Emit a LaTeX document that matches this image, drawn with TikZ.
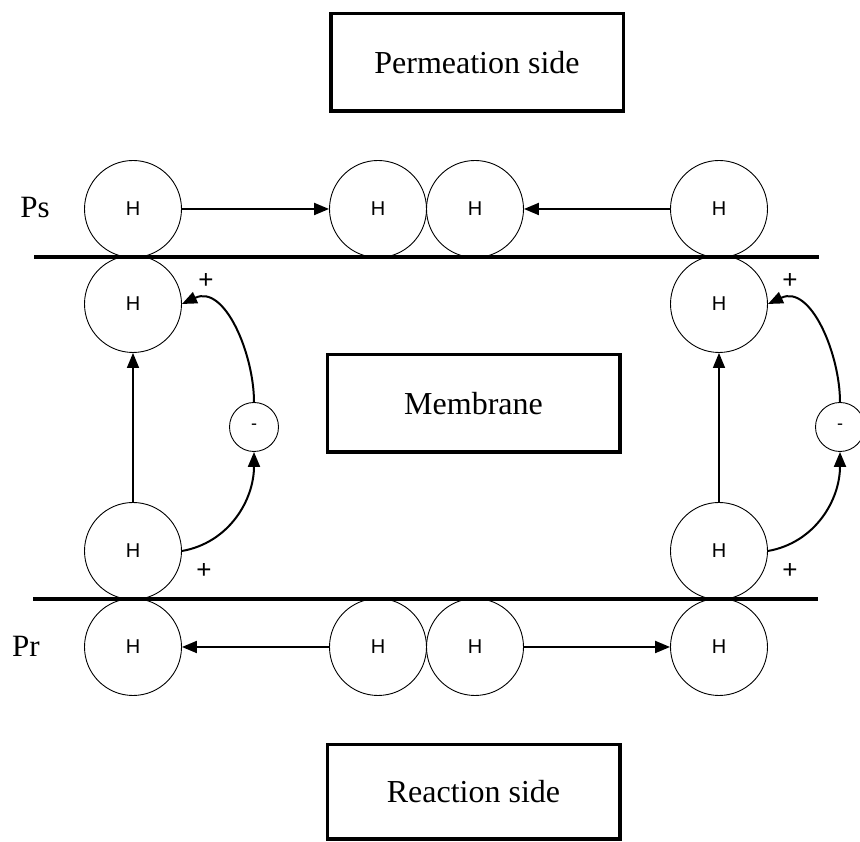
\documentclass[tikz,border=0pt]{standalone}
\usepackage{fontspec}
\setmainfont{Liberation Serif}
\newfontfamily\hfont{Liberation Sans}
\usetikzlibrary{arrows.meta}
\begin{document}
\begin{tikzpicture}[x=1pt,y=1pt,
 atom/.style={circle,draw,line width=0.9pt,minimum size=97pt,inner sep=0pt,font=\hfont\fontsize{20}{24}\selectfont},
 ion/.style={circle,draw,line width=0.9pt,minimum size=49pt,inner sep=0pt,font=\hfont\fontsize{18}{20}\selectfont},
 sidebox/.style={draw,line width=3.5pt,minimum width=292.5pt,minimum height=97.5pt,inner sep=0pt,font=\fontsize{32}{36}\selectfont},
 membraneline/.style={line width=4.5pt},
 flow/.style={line width=2pt,-{Triangle[length=15pt,width=12pt]}},
 charge/.style={font=\hfont\fontsize{26}{28}\selectfont},
 sidelabel/.style={font=\fontsize{31}{34}\selectfont}]
\clip (0,0) rectangle (860,842);
\fill[white] (0,0) rectangle (860,842);
% boxes
\node[sidebox] (perm) at (477,779.5) {Permeation side};
\node[sidebox] (memb) at (473.5,438.5) {Membrane};
\node[sidebox,minimum height=94.5pt] (reac) at (473.5,50) {Reaction side};
% atoms
\node[atom] (ps1) at (133,633) {H};
\node[atom] (ps2) at (378,633) {H};
\node[atom] (ps3) at (475,633) {H};
\node[atom] (ps4) at (719,633) {H};
\node[atom] (upL) at (133,538) {H};
\node[atom] (upR) at (719,538) {H};
\node[atom] (loL) at (133,291) {H};
\node[atom] (loR) at (719,291) {H};
\node[atom] (pr1) at (133,195) {H};
\node[atom] (pr2) at (378,195) {H};
\node[atom] (pr3) at (475,195) {H};
\node[atom] (pr4) at (719,195) {H};
\node[ion] (mL) at (254,415) {-};
\node[ion] (mR) at (840,415) {-};
% membrane lines
\coordinate (tl1) at (34,585);
\coordinate (tl2) at (819,585);
\coordinate (bl1) at (33,243);
\coordinate (bl2) at (818,243);
\draw[membraneline] (tl1) -- (tl2);
\draw[membraneline] (bl1) -- (bl2);
% labels
\node[sidelabel] (ps) at (35,634) {Ps};
\node[sidelabel] (pr) at (26,196) {Pr};
\node[charge] (c1) at (206,561) {+};
\node[charge] (c2) at (204,271) {+};
\node[charge] (c3) at (790,561) {+};
\node[charge] (c4) at (790,271) {+};
% arrows
\draw[flow] (ps1) -- (ps2);
\draw[flow] (ps4) -- (ps3);
\draw[flow] (pr2) -- (pr1);
\draw[flow] (pr3) -- (pr4);
\draw[flow,line width=1.5pt] (loL) -- (upL);
\draw[flow,line width=1.5pt] (loR) -- (upR);
\draw[flow] (loL.east) to[out=10,in=-90] (mL.south);
\draw[flow] (mL.north) to[out=90,in=25] (upL.east);
\draw[flow] (loR.east) to[out=10,in=-90] (mR.south);
\draw[flow] (mR.north) to[out=90,in=25] (upR.east);
\end{tikzpicture}
\end{document}
